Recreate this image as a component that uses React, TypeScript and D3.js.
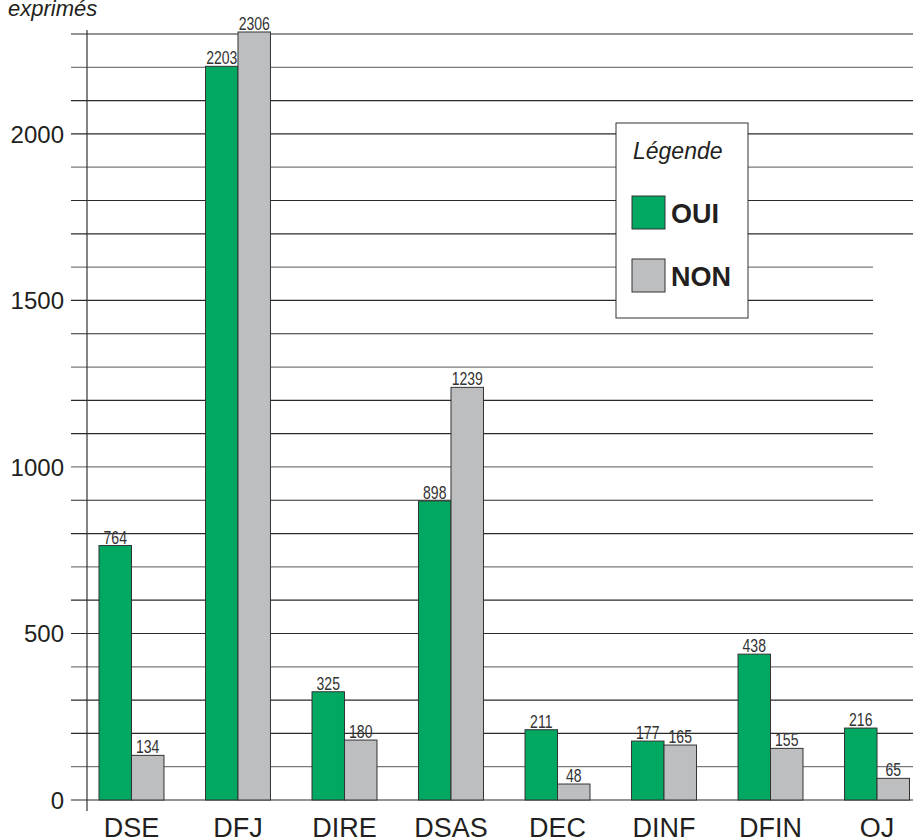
import { useEffect, useRef } from 'react';
import { select, scaleLinear, scaleBand, range } from 'd3';

const categories = ['DSE', 'DFJ', 'DIRE', 'DSAS', 'DEC', 'DINF', 'DFIN', 'OJ'];
const ouiValues = [764, 2203, 325, 898, 211, 177, 438, 216];
const nonValues = [134, 2306, 180, 1239, 48, 165, 155, 65];
const yTicks = [0, 500, 1000, 1500, 2000];
const seriesNames = ['OUI', 'NON'];
const seriesColors = ['#00a862', '#bcbec0'];

/**
 * Grouped bar chart of votes OUI / NON
 */
export default function App() {
  const svgRef = useRef<SVGSVGElement>(null);

  useEffect(() => {
    if (!svgRef.current) return;
    select(svgRef.current).selectAll('*').remove();

    const width = 913;
    const height = 838;
    const sans = '"Liberation Sans", Arial, Helvetica, sans-serif';

    const svg = select(svgRef.current).attr('width', width).attr('height', height);

    // Scales
    const y = scaleLinear().domain([0, 2300]).range([800, 34]);
    const x0 = scaleBand<string>().domain(categories).range([99, 909.5]).paddingInner(0.39).paddingOuter(0);
    const x1 = scaleBand<string>().domain(seriesNames).range([0, x0.bandwidth()]).padding(0);

    // Grid lines every 100
    range(0, 2301, 100).forEach((v, i) => {
      const short = v >= 900 && v <= 1600;
      svg.append('line')
        .attr('x1', 71)
        .attr('x2', short ? 873 : width)
        .attr('y1', y(v))
        .attr('y2', y(v))
        .attr('stroke', i % 3 === 1 ? '#7a7a7a' : '#2a2a2a')
        .attr('stroke-width', 1.2);
    });

    // Y axis line
    svg.append('line')
      .attr('x1', 87).attr('x2', 87)
      .attr('y1', 30).attr('y2', 811)
      .attr('stroke', '#333')
      .attr('stroke-width', 1.2);

    // Y tick labels
    yTicks.forEach((t) => {
      svg.append('text')
        .attr('x', 64)
        .attr('y', y(t))
        .attr('dy', '0.36em')
        .attr('text-anchor', 'end')
        .attr('font-family', sans)
        .attr('font-size', 24)
        .attr('fill', '#231f20')
        .text(t);
    });

    // Bars
    const series = [ouiValues, nonValues];
    categories.forEach((cat, ci) => {
      series.forEach((vals, si) => {
        const bx = (x0(cat) ?? 0) + (x1(seriesNames[si]) ?? 0);
        const v = vals[ci];
        svg.append('rect')
          .attr('x', bx)
          .attr('y', y(v))
          .attr('width', x1.bandwidth())
          .attr('height', y(0) - y(v))
          .attr('fill', seriesColors[si])
          .attr('stroke', '#333')
          .attr('stroke-width', 1);
      });
    });

    // Value labels (condensed look via horizontal squeeze)
    categories.forEach((cat, ci) => {
      series.forEach((vals, si) => {
        const cx = (x0(cat) ?? 0) + (x1(seriesNames[si]) ?? 0) + x1.bandwidth() / 2;
        const v = vals[ci];
        svg.append('text')
          .attr('transform', `translate(${cx},${y(v) - 2}) scale(0.78,1)`)
          .attr('text-anchor', 'middle')
          .attr('font-family', sans)
          .attr('font-size', 18)
          .attr('fill', '#333')
          .text(v);
      });
    });

    // Category labels
    categories.forEach((cat) => {
      svg.append('text')
        .attr('x', (x0(cat) ?? 0) + x0.bandwidth() / 2)
        .attr('y', 837)
        .attr('text-anchor', 'middle')
        .attr('font-family', sans)
        .attr('font-size', 27)
        .attr('fill', '#231f20')
        .text(cat);
    });

    // Axis title (partly cut off at top)
    svg.append('text')
      .attr('x', 8)
      .attr('y', 16)
      .attr('font-family', sans)
      .attr('font-style', 'italic')
      .attr('font-size', 22)
      .attr('fill', '#231f20')
      .text('exprimés');

    // Legend
    const lg = svg.append('g').attr('transform', 'translate(616,123)');
    lg.append('rect')
      .attr('width', 132)
      .attr('height', 195)
      .attr('fill', '#fff')
      .attr('stroke', '#333')
      .attr('stroke-width', 1);
    lg.append('text')
      .attr('x', 17)
      .attr('y', 36)
      .attr('font-family', sans)
      .attr('font-style', 'italic')
      .attr('font-size', 23)
      .attr('fill', '#231f20')
      .text('Légende');
    seriesNames.forEach((name, i) => {
      const top = 73 + i * 63;
      lg.append('rect')
        .attr('x', 16)
        .attr('y', top)
        .attr('width', 33)
        .attr('height', 33)
        .attr('fill', seriesColors[i])
        .attr('stroke', '#333')
        .attr('stroke-width', 1);
      lg.append('text')
        .attr('x', 55)
        .attr('y', top + 27)
        .attr('font-family', sans)
        .attr('font-weight', 'bold')
        .attr('font-size', 27)
        .attr('fill', '#231f20')
        .text(name);
    });
  }, []);

  return <svg ref={svgRef} style={{ position: 'absolute', left: 0, top: 0 }} />;
}
